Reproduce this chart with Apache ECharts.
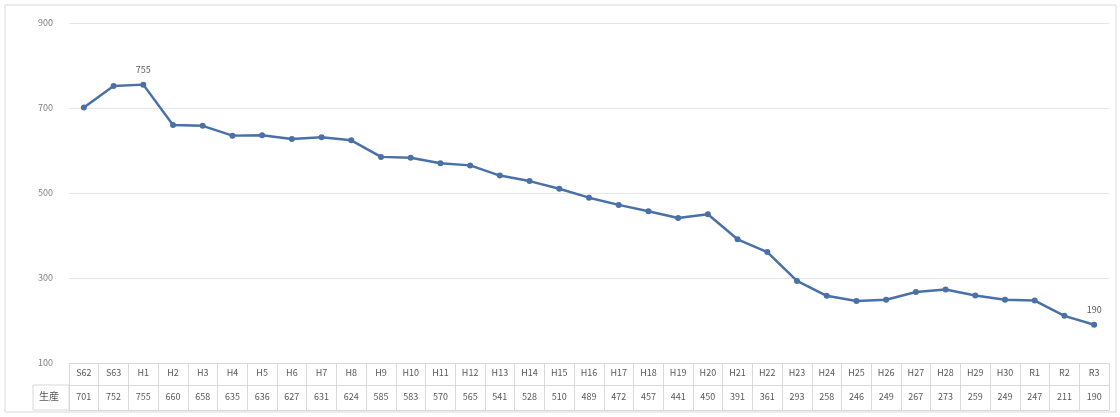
<!DOCTYPE html>
<html><head><meta charset="utf-8">
<script src="https://cdn.jsdelivr.net/npm/echarts@6/dist/echarts.min.js"></script>
<style>html,body{margin:0;padding:0;background:#fff}#c{width:1120px;height:417px}</style>
</head><body><div id="c"></div>
<script>
const categories = ['S62','S63','H1','H2','H3','H4','H5','H6','H7','H8','H9','H10','H11','H12','H13','H14','H15','H16','H17','H18','H19','H20','H21','H22','H23','H24','H25','H26','H27','H28','H29','H30','R1','R2','R3'];
const production = [701,752,755,660,658,635,636,627,631,624,585,583,570,565,541,528,510,489,472,457,441,450,391,361,293,258,246,249,267,273,259,249,247,211,190];
const rowHeader = '生産';
const yTicks = {min:100, max:900, interval:200};
const labelled = [2, 34];

const FONT = '"Noto Sans CJK JP","Noto Sans",sans-serif';
const chart = echarts.init(document.getElementById('c'));
const grid = {left:69, right:11, top:23, bottom:54};
const lineCol = '#d9d9d9';
const txt = '#595959';
chart.setOption({
  animation:false,
  textStyle:{fontFamily:FONT},
  grid:grid,
  xAxis:[
    {type:'category', data:categories, position:'bottom', boundaryGap:true,
     axisLine:{show:true, lineStyle:{color:lineCol}},
     axisTick:{show:true, interval:0, length:47, lineStyle:{color:lineCol}},
     axisLabel:{interval:0, margin:5, fontSize:9, color:txt, fontFamily:FONT},
     splitLine:{show:false}},
    {type:'category', data:production.map(String), position:'bottom', offset:22, boundaryGap:true,
     axisLine:{show:true, lineStyle:{color:lineCol}},
     axisTick:{show:false},
     axisLabel:{interval:0, margin:7, fontSize:9, color:txt, fontFamily:FONT}},
    {type:'category', data:categories, position:'bottom', offset:47, boundaryGap:true,
     axisLine:{show:true, lineStyle:{color:lineCol}},
     axisTick:{show:false}, axisLabel:{show:false}}
  ],
  yAxis:{type:'value', min:yTicks.min, max:yTicks.max, interval:yTicks.interval,
    axisLine:{show:false}, axisTick:{show:false},
    axisLabel:{fontSize:9, color:'#7f7f7f', margin:16, fontFamily:FONT},
    splitLine:{lineStyle:{color:'#e6e6e6'}}},
  series:[{
    type:'line', xAxisIndex:0,
    data:production.map((v,i)=> labelled.includes(i)
      ? {value:v, label:{show:true, position:'top', distance:8, fontSize:9, color:txt}}
      : v),
    symbol:'circle', symbolSize:6,
    lineStyle:{color:'#4a70a8', width:2.5},
    itemStyle:{color:'#4a70a8'}
  }],
  graphic:[
    {type:'rect', shape:{x:5, y:5, width:1111, height:407}, style:{fill:'none', stroke:'#d9d9d9', lineWidth:1}},
    {type:'rect', shape:{x:33, y:385, width:36, height:25}, style:{fill:'none', stroke:lineCol, lineWidth:1}},
    {type:'text', left:39, top:391, style:{text:rowHeader, fontSize:10, fill:txt, fontFamily:FONT}}
  ]
});
</script></body></html>
